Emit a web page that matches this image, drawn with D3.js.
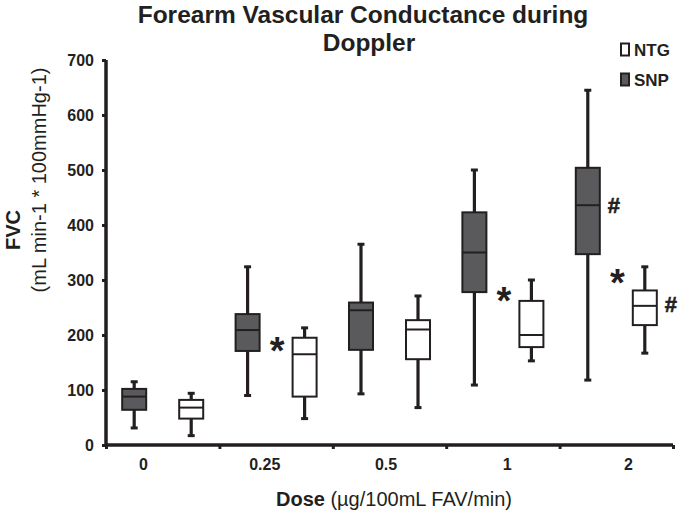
<!DOCTYPE html>
<html><head><meta charset="utf-8">
<script src="https://cdn.jsdelivr.net/npm/d3@7/dist/d3.min.js"></script>
<style>
html,body{margin:0;padding:0;background:#fff;}
text{font-family:"Liberation Sans",Arial,sans-serif;fill:#231f20;}
</style></head>
<body>
<svg id="chart" width="680" height="515"></svg>
<script>
// ---- data ----
const doses = ["0", "0.25", "0.5", "1", "2"];
const series = ["SNP", "NTG"];
// [whiskerLow, q1, median, q3, whiskerHigh]
const snp = [
  [31, 64, 88, 102, 115],
  [90, 171, 209, 238, 324],
  [93, 173, 245, 259, 365],
  [109, 278, 350, 423, 500],
  [118, 347, 436, 504, 645]
];
const ntg = [
  [17, 48, 68, 82, 94],
  [48, 88, 165, 195, 213],
  [68, 156, 210, 227, 271],
  [153, 178, 200, 262, 300],
  [167, 218, 253, 281, 324]
];
const yTicks = [0, 100, 200, 300, 400, 500, 600, 700];
// annotations: symbol, dose, anchor ("mid" = between boxes, or series name = right of that box), value
const annotations = [
  {sym: "*", dose: "0.25", at: "mid", value: 186},
  {sym: "*", dose: "1", at: "mid", value: 276},
  {sym: "*", dose: "2", at: "mid", value: 309},
  {sym: "#", dose: "2", at: "SNP", value: 436},
  {sym: "#", dose: "2", at: "NTG", value: 256}
];
const colors = {SNP: "#5a5a5c", NTG: "#ffffff"};
const ink = "#231f20";

// ---- layout ----
const svg = d3.select("#chart");
const y = d3.scaleLinear().domain([0, 700]).range([445, 60]);
const x = d3.scaleBand().domain(doses).range([106, 673]).padding(0);
const xs = d3.scaleBand().domain(series).range([0, x.bandwidth()]).paddingInner(0.579).paddingOuter(0.284);
const labelX = d3.scalePoint().domain(doses).range([143, 628]);
const boxW = xs.bandwidth();

// title
svg.append("text").attr("x", 363).attr("y", 23).attr("text-anchor", "middle")
  .style("font-size", "24.5px").style("font-weight", "bold").text("Forearm Vascular Conductance during");
svg.append("text").attr("x", 369).attr("y", 51).attr("text-anchor", "middle")
  .style("font-size", "24.5px").style("font-weight", "bold").text("Doppler");

// boxes
const groups = [];
doses.forEach((d, i) => {
  groups.push({dose: d, s: "SNP", v: snp[i]});
  groups.push({dose: d, s: "NTG", v: ntg[i]});
});
const g = svg.append("g");
groups.forEach(o => {
  const cx = x(o.dose) + xs(o.s) + boxW / 2;
  const [lo, q1, med, q3, hi] = o.v;
  g.append("line").attr("x1", cx).attr("x2", cx).attr("y1", y(lo)).attr("y2", y(hi))
    .attr("stroke", ink).attr("stroke-width", 3.2);
  [lo, hi].forEach(w => g.append("line").attr("x1", cx - 3.5).attr("x2", cx + 3.5)
    .attr("y1", y(w)).attr("y2", y(w)).attr("stroke", ink).attr("stroke-width", 3));
  g.append("rect").attr("x", cx - boxW / 2).attr("width", boxW)
    .attr("y", y(q3)).attr("height", y(q1) - y(q3))
    .attr("fill", colors[o.s]).attr("stroke", ink).attr("stroke-width", 2);
  g.append("line").attr("x1", cx - boxW / 2).attr("x2", cx + boxW / 2)
    .attr("y1", y(med)).attr("y2", y(med)).attr("stroke", ink).attr("stroke-width", 2);
});

// annotations
annotations.forEach(a => {
  let ax;
  if (a.at === "mid") ax = x(a.dose) + x.bandwidth() / 2 + 1;
  else ax = x(a.dose) + xs(a.at) + boxW + 14;
  const t = svg.append("text").attr("x", ax).attr("text-anchor", "middle")
    .style("font-weight", "bold").text(a.sym);
  if (a.sym === "*") t.style("font-size", "38px").attr("y", y(a.value) + 21);
  else t.style("font-size", "22px").attr("y", y(a.value) + 8)
    .attr("stroke", ink).attr("stroke-width", 0.6);
});

// y axis
const yAxis = svg.append("g").attr("transform", "translate(106,0)")
  .call(d3.axisLeft(y).tickValues(yTicks).tickSize(4).tickPadding(8).tickFormat(d3.format("d")));
yAxis.select(".domain").attr("stroke", ink).attr("stroke-width", 3.5).attr("d", "M0,445V60");
yAxis.selectAll(".tick line").attr("stroke", ink).attr("stroke-width", 3);
yAxis.selectAll(".tick text").style("font-size", "16px").style("font-weight", "bold")
  .style("font-family", "'Liberation Sans', Arial, sans-serif").attr("fill", ink);

// x axis (boundary ticks)
const xb = d3.scaleLinear().domain([0, doses.length]).range([106, 673]);
const xAxis = svg.append("g").attr("transform", "translate(0,445)")
  .call(d3.axisBottom(xb).tickValues(d3.range(0, doses.length + 1)).tickSize(4).tickFormat(""));
xAxis.select(".domain").attr("stroke", ink).attr("stroke-width", 3.5).attr("d", "M106,0H673");
xAxis.selectAll(".tick line").attr("stroke", ink).attr("stroke-width", 3);

// x labels
const xl = svg.append("g").attr("transform", "translate(0,445)")
  .call(d3.axisBottom(labelX).tickSize(0).tickPadding(14));
xl.select(".domain").remove();
xl.selectAll(".tick text").style("font-size", "16px").style("font-weight", "bold")
  .style("font-family", "'Liberation Sans', Arial, sans-serif").attr("fill", ink);

// axis titles
const xt = svg.append("text").attr("x", 394).attr("y", 506).attr("text-anchor", "middle").style("font-size", "20px");
xt.append("tspan").style("font-weight", "bold").text("Dose");
xt.append("tspan").text(" (\u00b5g/100mL FAV/min)");

svg.append("text").attr("transform", "translate(20,230) rotate(-90)").attr("text-anchor", "middle")
  .style("font-size", "20px").style("font-weight", "bold").text("FVC");
svg.append("text").attr("transform", "translate(46,180) rotate(-90)").attr("text-anchor", "middle")
  .style("font-size", "20px").text("(mL min-1 * 100mmHg-1)");

// legend
const legendItems = ["NTG", "SNP"];
const leg = svg.append("g");
legendItems.forEach((s, i) => {
  leg.append("rect").attr("x", 621).attr("y", 43.5 + i * 30).attr("width", 8).attr("height", 12)
    .attr("fill", colors[s]).attr("stroke", ink).attr("stroke-width", 2);
  leg.append("text").attr("x", 634).attr("y", 55.5 + i * 30).style("font-size", "17px")
    .style("font-weight", "bold").text(s);
});
</script>
</body></html>
